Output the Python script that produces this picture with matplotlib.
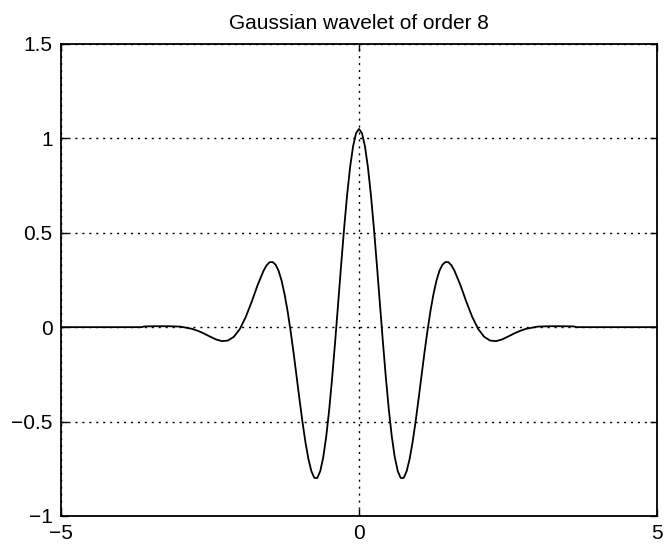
import matplotlib
matplotlib.use("Agg")
import matplotlib.pyplot as plt

# values
x_vals = [-5.0, -3.65, -3.6, -3.4, -3.2, -3.0, -2.9, -2.8, -2.7, -2.6, -2.5,
          -2.4, -2.3, -2.2, -2.1, -2.0, -1.9, -1.8, -1.7, -1.6, -1.55, -1.5,
          -1.45, -1.4, -1.35, -1.3, -1.25, -1.2, -1.15, -1.1, -1.05, -1.0,
          -0.95, -0.9, -0.85, -0.8, -0.75, -0.7, -0.65, -0.6, -0.55, -0.5,
          -0.45, -0.4, -0.35, -0.3, -0.25, -0.2, -0.15, -0.1, -0.05, 0.0,
          0.05, 0.1, 0.15, 0.2, 0.25, 0.3, 0.35, 0.4, 0.45, 0.5,
          0.55, 0.6, 0.65, 0.7, 0.75, 0.8, 0.85, 0.9, 0.95, 1.0,
          1.05, 1.1, 1.15, 1.2, 1.25, 1.3, 1.35, 1.4, 1.45, 1.5,
          1.55, 1.6, 1.7, 1.8, 1.9, 2.0, 2.1, 2.2, 2.3, 2.4,
          2.5, 2.6, 2.7, 2.8, 2.9, 3.0, 3.2, 3.4, 3.6, 3.65, 5.0]
psi_vals = [0.0, 0.0, 0.004, 0.005, 0.005, 0.003, -0.003, -0.009, -0.020, -0.034, -0.050,
            -0.065, -0.074, -0.071, -0.051, -0.010, 0.054, 0.135, 0.224, 0.300, 0.328, 0.344,
            0.345, 0.331, 0.299, 0.247, 0.176, 0.088, -0.016, -0.131, -0.254, -0.379,
            -0.499, -0.607, -0.697, -0.762, -0.798, -0.799, -0.762, -0.689, -0.579, -0.436,
            -0.265, -0.075, 0.126, 0.329, 0.523, 0.699, 0.846, 0.957, 1.027, 1.05,
            1.027, 0.957, 0.846, 0.699, 0.523, 0.329, 0.126, -0.075, -0.265, -0.436,
            -0.579, -0.689, -0.762, -0.799, -0.798, -0.762, -0.697, -0.607, -0.499, -0.379,
            -0.254, -0.131, -0.016, 0.088, 0.176, 0.247, 0.299, 0.331, 0.345, 0.344,
            0.328, 0.300, 0.224, 0.135, 0.054, -0.010, -0.051, -0.071, -0.074, -0.065,
            -0.050, -0.034, -0.020, -0.009, -0.003, 0.003, 0.005, 0.005, 0.004, 0.0, 0.0]

x_ticks = [-5, 0, 5]
y_ticks = [-1, -0.5, 0, 0.5, 1, 1.5]
y_ticklabels = ['\u22121', '\u22120.5', '0', '0.5', '1', '1.5']
x_ticklabels = ['\u22125', '0', '5']

plt.rcParams['font.family'] = ['Liberation Sans', 'DejaVu Sans']

fig = plt.figure(figsize=(6.67, 5.47), dpi=100)
ax = fig.add_axes([0.0915, 0.0567, 0.8935, 0.863])

ax.plot(x_vals, psi_vals, color='black', linewidth=1.3)

ax.set_xlim(-5, 5)
ax.set_ylim(-1, 1.5)
ax.set_xticks(x_ticks)
ax.set_xticklabels(x_ticklabels)
ax.set_yticks(y_ticks)
ax.set_yticklabels(y_ticklabels)

ax.grid(True, color='black', linestyle=(0, (1.5, 3.5)), linewidth=1.0)
ax.tick_params(direction='in', top=True, right=True, length=5, width=1,
               labelsize=15, pad=6)
for s in ax.spines.values():
    s.set_linewidth(1.3)

ax.set_title('Gaussian wavelet of order 8', fontsize=15, pad=11)

fig.savefig('out.png', dpi=100)
